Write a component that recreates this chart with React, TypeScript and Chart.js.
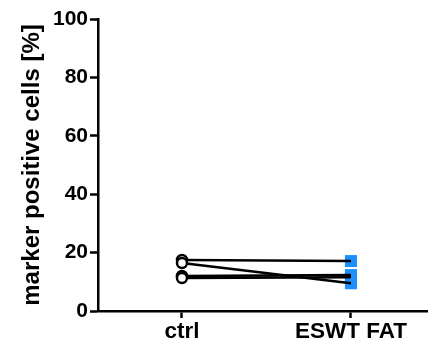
import React, { useEffect, useRef } from "react";
import { Chart, registerables } from "chart.js";

Chart.register(...registerables);

const categories = ["ctrl", "ESWT FAT"];
const ctrlValues = [17.5, 16.4, 12.0, 11.3];
const eswtValues = [17.1, 9.5, 12.3, 11.6];
const yTicks = [0, 20, 40, 60, 80, 100];
const yTitle = "marker positive cells [%]";

const FONT = "'Liberation Sans', Arial, Helvetica, sans-serif";

export default function App() {
  const ref = useRef<HTMLCanvasElement>(null);
  useEffect(() => {
    document.body.style.margin = "0";
    const canvas = ref.current!;
    const lineSets = ctrlValues.map((c, i) => ({
      type: "line" as const,
      data: [
        { x: 0, y: c },
        { x: 1, y: eswtValues[i] },
      ],
      borderColor: "#000",
      borderWidth: 2.5,
      pointRadius: 0,
      fill: false,
      order: 5,
    }));
    const chart = new Chart(canvas, {
      type: "scatter",
      data: {
        datasets: [
          {
            type: "scatter" as const,
            data: ctrlValues.map((v) => ({ x: 0, y: v })),
            pointStyle: "circle",
            pointRadius: 5,
            borderWidth: 2.5,
            borderColor: "#000",
            backgroundColor: "#fff",
            order: 1,
          },
          ...lineSets,
          {
            type: "scatter" as const,
            data: eswtValues.map((v) => ({ x: 1, y: v })),
            pointStyle: "rect",
            pointRadius: 8.5,
            borderWidth: 0,
            borderColor: "#1E8FFF",
            backgroundColor: "#1E8FFF",
            order: 10,
          },
        ] as any,
      },
      options: {
        animation: false,
        responsive: false,
        events: [],
        layout: { autoPadding: false, padding: { top: 19, left: 0, right: 0, bottom: 0 } },
        plugins: { legend: { display: false }, tooltip: { enabled: false } },
        scales: {
          x: {
            type: "linear",
            min: -0.497,
            max: 1.456,
            afterBuildTicks: (s: any) => {
              s.ticks = categories.map((_, i) => ({ value: i }));
            },
            afterFit: (s: any) => {
              s.height = 36;
            },
            ticks: {
              callback: (v: any) => categories[v as number] ?? "",
              color: "#000",
              font: { family: FONT, size: 22.5, weight: "bold" },
              padding: 0,
              maxRotation: 0,
              autoSkip: false,
            },
            grid: {
              drawOnChartArea: false,
              drawTicks: true,
              tickLength: 7,
              tickWidth: 2.5,
              tickColor: "#000",
            },
            border: { color: "#000", width: 2.5 },
          },
          y: {
            type: "linear",
            min: 0,
            max: 100,
            afterBuildTicks: (s: any) => {
              s.ticks = yTicks.map((v) => ({ value: v }));
            },
            afterFit: (s: any) => {
              s.width = 98;
            },
            ticks: {
              color: "#000",
              font: { family: FONT, size: 21, weight: "bold" },
              padding: 2,
            },
            grid: {
              drawOnChartArea: false,
              drawTicks: true,
              tickLength: 8,
              tickWidth: 2.5,
              tickColor: "#000",
            },
            border: { color: "#000", width: 2.5 },
            title: {
              display: true,
              text: yTitle,
              color: "#000",
              font: { family: FONT, size: 24, weight: "bold" },
              padding: { top: 17.5, bottom: 0 },
            },
          },
        },
      } as any,
    });
    return () => chart.destroy();
  }, []);
  return (
    <div style={{ width: 428, height: 347, background: "#fff" }}>
      <canvas ref={ref} width={428} height={347} style={{ width: 428, height: 347, display: "block" }} />
    </div>
  );
}
